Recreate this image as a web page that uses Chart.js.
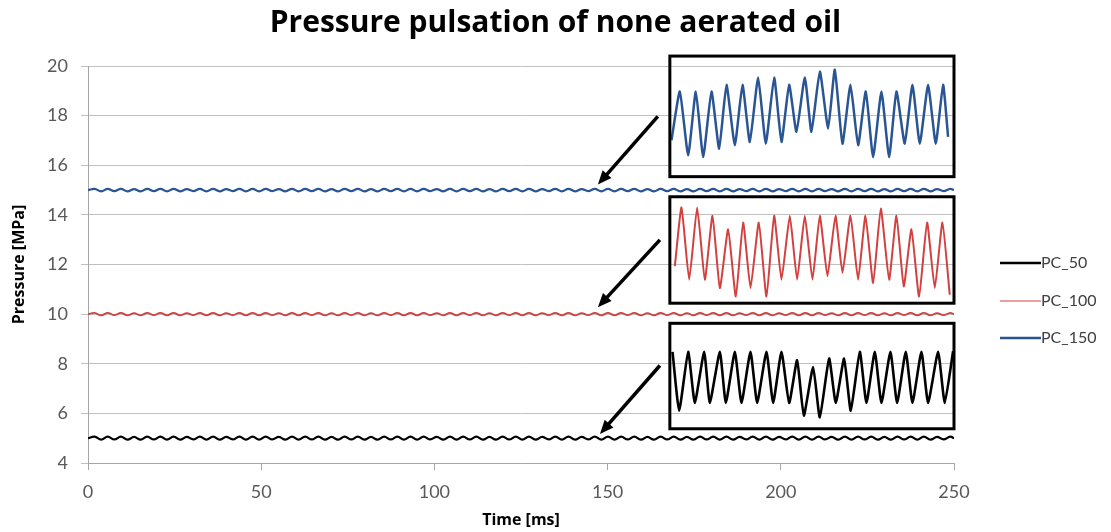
<!DOCTYPE html>
<html>
<head>
<meta charset="utf-8">
<title>Pressure pulsation of none aerated oil</title>
<script src="https://cdn.jsdelivr.net/npm/chart.js@4.4.1/dist/chart.umd.min.js"></script>
<style>
  body { margin: 0; background: #fff; }
</style>
</head>
<body>
<canvas id="pulsation" width="1111" height="532"></canvas>
<script>
// full traces, time in ms
var timeMs = [
  0, 1.9, 3.8, 5.7, 7.6, 9.5, 11.4, 13.3, 15.2, 17.1,
  19, 20.9, 22.8, 24.7, 26.6, 28.5, 30.4, 32.3, 34.2, 36.1,
  38, 39.9, 41.8, 43.7, 45.6, 47.5, 49.4, 51.3, 53.2, 55.1,
  57, 58.9, 60.8, 62.7, 64.6, 66.5, 68.4, 70.3, 72.2, 74.1,
  76, 77.9, 79.8, 81.7, 83.6, 85.5, 87.4, 89.3, 91.2, 93.1,
  95, 96.9, 98.8, 100.7, 102.6, 104.5, 106.4, 108.3, 110.2, 112.1,
  114, 115.9, 117.8, 119.7, 121.6, 123.5, 125.4, 127.3, 129.2, 131.1,
  133, 134.9, 136.8, 138.7, 140.6, 142.5, 144.4, 146.3, 148.2, 150.1,
  152, 153.9, 155.8, 157.7, 159.6, 161.5, 163.4, 165.3, 167.2, 169.1,
  171, 172.9, 174.8, 176.7, 178.6, 180.5, 182.4, 184.3, 186.2, 188.1,
  190, 191.9, 193.8, 195.7, 197.6, 199.5, 201.4, 203.3, 205.2, 207.1,
  209, 210.9, 212.8, 214.7, 216.6, 218.5, 220.4, 222.3, 224.2, 226.1,
  228, 229.9, 231.8, 233.7, 235.6, 237.5, 239.4, 241.3, 243.2, 245.1,
  247, 248.9, 250
];

var pc50 = [
  5.00, 5.06, 4.94, 5.06, 4.95, 5.06, 4.94, 5.05, 4.94, 5.06,
  4.95, 5.06, 4.94, 5.06, 4.94, 5.05, 4.95, 5.06, 4.94, 5.06,
  4.94, 5.05, 4.95, 5.06, 4.94, 5.06, 4.94, 5.06, 4.95, 5.05,
  4.94, 5.06, 4.94, 5.06, 4.95, 5.06, 4.94, 5.05, 4.94, 5.06,
  4.95, 5.06, 4.94, 5.05, 4.94, 5.06, 4.95, 5.06, 4.94, 5.06,
  4.94, 5.06, 4.95, 5.05, 4.94, 5.06, 4.94, 5.06, 4.95, 5.06,
  4.94, 5.05, 4.94, 5.06, 4.95, 5.06, 4.94, 5.06, 4.94, 5.05,
  4.95, 5.06, 4.94, 5.06, 4.94, 5.05, 4.95, 5.06, 4.94, 5.06,
  4.94, 5.06, 4.95, 5.06, 4.94, 5.05, 4.94, 5.06, 4.95, 5.06,
  4.94, 5.05, 4.94, 5.06, 4.95, 5.06, 4.94, 5.06, 4.94, 5.05,
  4.95, 5.06, 4.94, 5.06, 4.94, 5.05, 4.95, 5.06, 4.94, 5.06,
  4.94, 5.06, 4.95, 5.05, 4.94, 5.06, 4.94, 5.06, 4.95, 5.06,
  4.94, 5.05, 4.94, 5.06, 4.95, 5.06, 4.94, 5.06, 4.94, 5.05,
  4.95, 5.06, 5.00
];

var pc100 = [
  10.00, 10.05, 9.95, 10.05, 9.96, 10.05, 9.95, 10.04, 9.95, 10.05,
  9.96, 10.05, 9.95, 10.05, 9.95, 10.04, 9.96, 10.05, 9.95, 10.05,
  9.95, 10.04, 9.96, 10.05, 9.95, 10.05, 9.95, 10.05, 9.96, 10.04,
  9.95, 10.05, 9.95, 10.05, 9.96, 10.05, 9.95, 10.04, 9.95, 10.05,
  9.96, 10.05, 9.95, 10.04, 9.95, 10.05, 9.96, 10.05, 9.95, 10.05,
  9.95, 10.05, 9.96, 10.04, 9.95, 10.05, 9.95, 10.05, 9.96, 10.05,
  9.95, 10.04, 9.95, 10.05, 9.96, 10.05, 9.95, 10.05, 9.95, 10.04,
  9.96, 10.05, 9.95, 10.05, 9.95, 10.04, 9.96, 10.05, 9.95, 10.05,
  9.95, 10.05, 9.96, 10.05, 9.95, 10.04, 9.95, 10.05, 9.96, 10.05,
  9.95, 10.04, 9.95, 10.05, 9.96, 10.05, 9.95, 10.05, 9.95, 10.04,
  9.96, 10.05, 9.95, 10.05, 9.95, 10.04, 9.96, 10.05, 9.95, 10.05,
  9.95, 10.05, 9.96, 10.04, 9.95, 10.05, 9.95, 10.05, 9.96, 10.05,
  9.95, 10.04, 9.95, 10.05, 9.96, 10.05, 9.95, 10.05, 9.95, 10.04,
  9.96, 10.05, 10.00
];

var pc150 = [
  15.00, 15.05, 14.95, 15.05, 14.96, 15.05, 14.95, 15.04, 14.95, 15.05,
  14.96, 15.05, 14.95, 15.05, 14.95, 15.04, 14.96, 15.05, 14.95, 15.05,
  14.95, 15.04, 14.96, 15.05, 14.95, 15.05, 14.95, 15.05, 14.96, 15.04,
  14.95, 15.05, 14.95, 15.05, 14.96, 15.05, 14.95, 15.04, 14.95, 15.05,
  14.96, 15.05, 14.95, 15.04, 14.95, 15.05, 14.96, 15.05, 14.95, 15.05,
  14.95, 15.05, 14.96, 15.04, 14.95, 15.05, 14.95, 15.05, 14.96, 15.05,
  14.95, 15.04, 14.95, 15.05, 14.96, 15.05, 14.95, 15.05, 14.95, 15.04,
  14.96, 15.05, 14.95, 15.05, 14.95, 15.04, 14.96, 15.05, 14.95, 15.05,
  14.95, 15.05, 14.96, 15.05, 14.95, 15.04, 14.95, 15.05, 14.96, 15.05,
  14.95, 15.04, 14.95, 15.05, 14.96, 15.05, 14.95, 15.05, 14.95, 15.04,
  14.96, 15.05, 14.95, 15.05, 14.95, 15.04, 14.96, 15.05, 14.95, 15.05,
  14.95, 15.05, 14.96, 15.04, 14.95, 15.05, 14.95, 15.05, 14.96, 15.05,
  14.95, 15.04, 14.95, 15.05, 14.96, 15.05, 14.95, 15.05, 14.95, 15.04,
  14.96, 15.05, 15.00
];

// zoomed-in windows drawn inside the boxes (same axis units as the chart)
var zoomTime50 = [
  168.74, 170.66, 173.26, 175.18, 177.87, 179.51, 182.40, 184.13, 186.73, 188.65,
  191.25, 193.17, 195.86, 197.79, 200.19, 202.41, 204.71, 206.64, 209.33, 211.26,
  213.95, 215.87, 218.28, 220.20, 222.80, 224.72, 227.13, 229.05, 231.65, 233.57,
  236.08, 238.00, 240.60, 242.52, 245.41, 247.33, 249.74
];
var zoom50 = [
  8.48, 6.11, 8.48, 6.42, 8.48, 6.42, 8.48, 6.42, 8.48, 6.42,
  8.48, 6.42, 8.48, 6.42, 8.48, 6.42, 8.14, 5.91, 7.87, 5.84,
  8.21, 6.42, 8.21, 6.11, 8.48, 6.42, 8.48, 6.42, 8.48, 6.42,
  8.48, 6.42, 8.48, 6.42, 8.48, 6.42, 8.51
];

var zoomTime100 = [
  169.41, 171.33, 173.55, 175.85, 178.07, 180.28, 182.40, 184.80, 187.01, 189.13,
  191.25, 193.65, 195.86, 198.08, 200.19, 202.60, 204.71, 206.93, 209.14, 211.26,
  213.47, 215.78, 217.80, 220.11, 222.32, 224.44, 226.65, 228.86, 231.27, 233.38,
  235.50, 237.71, 239.92, 242.23, 244.45, 246.66, 248.77
];
var zoom100 = [
  11.93, 14.30, 11.39, 14.30, 11.39, 13.96, 11.05, 13.42, 10.71, 13.69,
  11.05, 13.69, 10.71, 13.96, 11.39, 13.96, 11.39, 13.96, 11.39, 13.96,
  11.53, 13.96, 11.66, 13.96, 11.39, 13.96, 11.26, 14.26, 11.39, 13.96,
  11.12, 13.42, 10.71, 13.69, 11.05, 13.69, 10.78
];

var zoomTime150 = [
  168.45, 170.85, 173.26, 175.47, 177.59, 179.99, 182.20, 184.32, 186.73, 188.94,
  191.05, 193.46, 195.67, 198.08, 200.19, 202.41, 204.52, 206.93, 208.85, 211.26,
  213.66, 215.59, 217.80, 220.11, 222.32, 224.53, 226.65, 229.05, 231.27, 233.38,
  235.79, 238.00, 240.12, 242.52, 244.73, 246.85, 248.29
];
var zoom150 = [
  17.01, 18.97, 16.40, 18.97, 16.33, 18.97, 16.67, 19.24, 16.81, 19.24,
  16.94, 19.54, 16.87, 19.54, 16.94, 19.24, 17.35, 19.54, 17.35, 19.78,
  17.48, 19.85, 16.87, 19.24, 16.81, 18.97, 16.33, 18.97, 16.33, 18.97,
  16.87, 19.24, 16.87, 19.24, 16.87, 19.24, 17.14
];

var seriesNames = ['PC_50', 'PC_100', 'PC_150'];
var seriesColors = ['#000000', '#d2403f', '#2a5594'];

function pairs(xs, ys) {
  return xs.map(function(x, i) { return { x: x, y: ys[i] }; });
}

// frames around the zoomed windows and the arrows to the traces
var frames = [
  { x0: 167.97, x1: 250, y0: 20.40, y1: 15.54 },
  { x0: 167.97, x1: 250, y0: 14.73, y1: 10.44 },
  { x0: 167.97, x1: 250, y0: 9.63, y1: 5.38 }
];
var arrows = [
  { from: [164.5, 17.97], to: [147.2, 15.22] },
  { from: [165.1, 12.99], to: [147.2, 10.28] },
  { from: [165.1, 7.93], to: [147.8, 5.17] }
];

var annotate = {
  id: 'annotate',
  afterDatasetsDraw: function(chart) {
    var ctx = chart.ctx, xs = chart.scales.x, ys = chart.scales.y;
    ctx.save();
    ctx.strokeStyle = '#000';
    ctx.lineWidth = 3;
    frames.forEach(function(f) {
      var l = xs.getPixelForValue(f.x0), r = xs.getPixelForValue(f.x1);
      var t = ys.getPixelForValue(f.y0), b = ys.getPixelForValue(f.y1);
      ctx.strokeRect(l, t, r - l, b - t);
    });
    ctx.fillStyle = '#000';
    arrows.forEach(function(a) {
      var x1 = xs.getPixelForValue(a.from[0]), y1 = ys.getPixelForValue(a.from[1]);
      var x2 = xs.getPixelForValue(a.to[0]), y2 = ys.getPixelForValue(a.to[1]);
      var ang = Math.atan2(y2 - y1, x2 - x1);
      var head = 15;
      ctx.lineWidth = 3.5;
      ctx.beginPath();
      ctx.moveTo(x1, y1);
      ctx.lineTo(x2 - Math.cos(ang) * head * 0.8, y2 - Math.sin(ang) * head * 0.8);
      ctx.stroke();
      ctx.beginPath();
      ctx.moveTo(x2, y2);
      ctx.lineTo(x2 - head * Math.cos(ang - 0.4), y2 - head * Math.sin(ang - 0.4));
      ctx.lineTo(x2 - head * Math.cos(ang + 0.4), y2 - head * Math.sin(ang + 0.4));
      ctx.closePath();
      ctx.fill();
    });

    // legend on the right
    var widths = [2.5, 1.2, 2.5];
    var rows = [263, 301, 338];
    ctx.font = '16px Lato';
    ctx.textBaseline = 'middle';
    seriesNames.forEach(function(name, i) {
      ctx.strokeStyle = seriesColors[i];
      ctx.lineWidth = widths[i];
      ctx.beginPath();
      ctx.moveTo(1000, rows[i]);
      ctx.lineTo(1041, rows[i]);
      ctx.stroke();
      ctx.fillStyle = '#404040';
      ctx.fillText(name, 1041, rows[i]);
    });
    ctx.restore();
  }
};

var ctx = document.getElementById('pulsation').getContext('2d');
var chart = new Chart(ctx, {
  type: 'line',
  data: {
    datasets: [
      { label: 'PC_50', data: pairs(timeMs, pc50), borderColor: seriesColors[0], borderWidth: 2.2, pointRadius: 0, tension: 0.4 },
      { label: 'PC_100', data: pairs(timeMs, pc100), borderColor: seriesColors[1], borderWidth: 1.8, pointRadius: 0, tension: 0.4 },
      { label: 'PC_150', data: pairs(timeMs, pc150), borderColor: seriesColors[2], borderWidth: 2.2, pointRadius: 0, tension: 0.4 },
      { label: 'zoom PC_50', data: pairs(zoomTime50, zoom50), borderColor: seriesColors[0], borderWidth: 2.6, pointRadius: 0, tension: 0.15 },
      { label: 'zoom PC_100', data: pairs(zoomTime100, zoom100), borderColor: seriesColors[1], borderWidth: 2, pointRadius: 0, tension: 0.15 },
      { label: 'zoom PC_150', data: pairs(zoomTime150, zoom150), borderColor: seriesColors[2], borderWidth: 2.5, pointRadius: 0, tension: 0.15 }
    ]
  },
  options: {
    responsive: false,
    animation: false,
    layout: { padding: { left: 0, right: 0, top: 4, bottom: 0 } },
    plugins: {
      legend: { display: false },
      tooltip: { enabled: false },
      title: {
        display: true,
        text: 'Pressure pulsation of none aerated oil',
        color: '#000',
        font: { family: 'Open Sans', size: 30, weight: 'bold' },
        padding: { top: 1, bottom: 25 }
      }
    },
    scales: {
      x: {
        type: 'linear',
        min: 0,
        max: 250,
        afterFit: function(scale) { scale.height = 69; },
        ticks: { stepSize: 50, color: '#595959', font: { family: 'Lato', size: 18 }, padding: 11 },
        grid: { drawOnChartArea: false, tickLength: 7, color: '#a6a6a6' },
        border: { color: '#a6a6a6' },
        title: { display: true, text: 'Time [ms]', color: '#000', font: { family: 'Open Sans', size: 16, weight: 'bold' }, padding: { top: 4, bottom: 2 } }
      },
      y: {
        min: 4,
        max: 20,
        afterFit: function(scale) { scale.width = 88; },
        ticks: { stepSize: 2, color: '#595959', font: { family: 'Lato', size: 18 }, padding: 13 },
        grid: { color: '#c0c0c0', tickLength: 7 },
        border: { color: '#a6a6a6' },
        title: { display: true, text: 'Pressure [MPa]', color: '#000', font: { family: 'Open Sans', size: 16, weight: 'bold' }, padding: { top: 10, bottom: 4 } }
      },
      legendSpace: {
        position: 'right',
        min: 0,
        max: 1,
        afterFit: function(scale) { scale.width = 157; },
        grid: { display: false, drawTicks: false },
        border: { display: false },
        ticks: { display: false }
      }
    }
  },
  plugins: [annotate]
});
</script>
</body>
</html>
